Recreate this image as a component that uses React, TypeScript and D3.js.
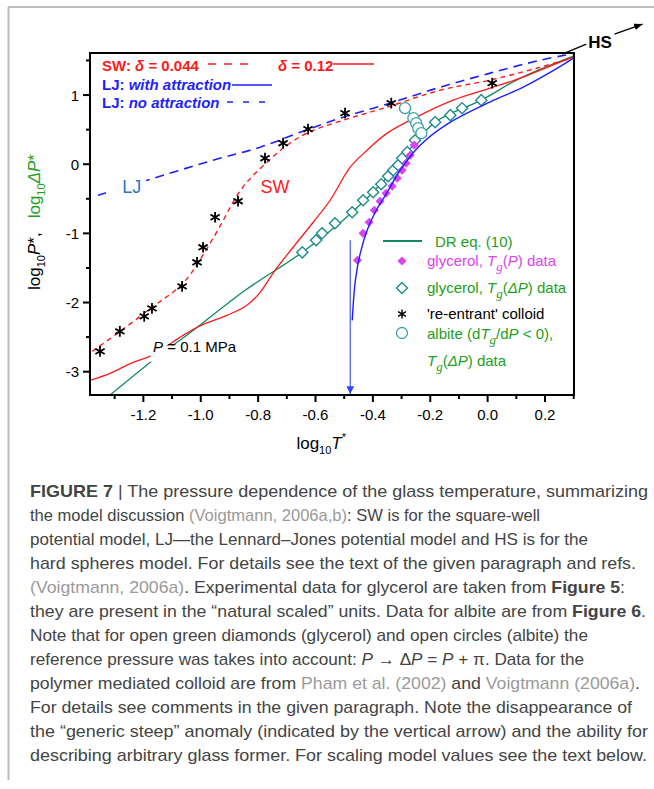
import React from "react";
import * as d3 from "d3";

const WIDTH = 654;
const HEIGHT = 789;

// axis ticks
const xTicks = [-1.2, -1.0, -0.8, -0.6, -0.4, -0.2, 0.0, 0.2];
const xMinor = [-1.3, -1.1, -0.9, -0.7, -0.5, -0.3, -0.1, 0.1, 0.3];
const yTicks = [-3, -2, -1, 0, 1];
const yMinor = [-2.5, -1.5, -0.5, 0.5, 1.5];

// LJ, no attraction (blue dashed)
const ljNoAttrX = [-1.358, -1.187, -0.957, -0.793, -0.653, -0.514, -0.34, -0.165, 0.009, 0.184, 0.3];
const ljNoAttrY = [-0.449, -0.232, 0.058, 0.246, 0.463, 0.666, 0.883, 1.114, 1.317, 1.505, 1.6];

// LJ, with attraction (blue solid)
const ljAttrX = [-0.472, -0.461, -0.444, -0.42, -0.392, -0.35, -0.305, -0.235, -0.141, 0.009, 0.124, 0.243, 0.299];
const ljAttrY = [-2.258, -1.679, -1.288, -0.955, -0.695, -0.405, -0.087, 0.275, 0.579, 0.9, 1.114, 1.389, 1.534];

// SW, delta = 0.044 (red dashed)
const sw044X = [-1.378, -1.281, -1.17, -1.062, -0.957, -0.856, -0.769, -0.699, -0.63, -0.514, -0.34, -0.165, 0.009, 0.184, 0.289];
const sw044Y = [-2.706, -2.417, -2.069, -1.722, -1.071, -0.347, 0.029, 0.275, 0.449, 0.622, 0.839, 1.071, 1.216, 1.404, 1.534];

// SW, delta = 0.12 (red solid)
const sw012X = [-1.386, -1.316, -1.236, -1.17, -1.062, -0.992, -0.908, -0.839, -0.793, -0.741, -0.678, -0.608, -0.549, -0.479, -0.42, -0.35, -0.235, -0.12, 0.009, 0.124, 0.243, 0.299];
const sw012Y = [-3.126, -3.025, -2.865, -2.764, -2.475, -2.315, -2.185, -2.04, -1.852, -1.534, -1.201, -0.839, -0.521, -0.043, 0.203, 0.449, 0.709, 0.926, 1.1, 1.259, 1.462, 1.548];

// DR eq. (10)
const drX = [-1.32, -1.141, -1.044, -0.845, -0.646, -0.472, -0.347, -0.28, -0.183, -0.022, 0.114, 0.299];
const drY = [-3.35, -2.75, -2.46, -1.823, -1.274, -0.695, -0.174, 0.174, 0.608, 0.926, 1.245, 1.563];

// glycerol, Tg(dP) data (open diamonds)
const glyDPX = [-0.646, -0.598, -0.577, -0.532, -0.472, -0.434, -0.399, -0.371, -0.347, -0.329, -0.312, -0.298, -0.28, -0.253, -0.183, -0.13, -0.089, -0.022];
const glyDPY = [-1.274, -1.1, -0.999, -0.854, -0.695, -0.521, -0.405, -0.289, -0.174, -0.087, -0.014, 0.087, 0.174, 0.347, 0.608, 0.709, 0.81, 0.926];

// glycerol, Tg(P) data (filled diamonds)
const glyPX = [-0.454, -0.434, -0.413, -0.395, -0.375, -0.354, -0.333, -0.315, -0.298, -0.284, -0.27, -0.256];
const glyPY = [-1.389, -0.999, -0.839, -0.666, -0.535, -0.42, -0.318, -0.203, -0.087, 0.014, 0.13, 0.275];

// 're-entrant' colloid
const colloidX = [-1.351, -1.282, -1.197, -1.17, -1.065, -1.013, -0.992, -0.95, -0.87, -0.776, -0.713, -0.626, -0.497, -0.336, 0.016];
const colloidY = [-2.706, -2.417, -2.2, -2.084, -1.766, -1.418, -1.201, -0.767, -0.535, 0.087, 0.304, 0.507, 0.738, 0.883, 1.172];

// albite, Tg(dP) data
const albiteX = [-0.288, -0.259, -0.249, -0.242, -0.231];
const albiteY = [0.81, 0.666, 0.593, 0.521, 0.449];

// generic steep anomaly arrow (log10 T*, from / to log10 P*)
const arrowX = -0.479;
const arrowY = [-1.1, -3.337];

// HS pointer
const hsLine = [[0.26, 1.592], [0.344, 1.737]];
const hsArrow = [[0.442, 1.881], [0.54, 2.026]];
const hsLabel = [0.351, 1.679];

const caption: [string, string][][] = [
  [["FIGURE 7", "b"], [" | The pressure dependence of the glass temperature, summarizing", ""]],
  [["the model discussion ", ""], ["(Voigtmann, 2006a,b)", "g"], [": SW is for the square-well", ""]],
  [["potential model, LJ\u2014the Lennard\u2013Jones potential model and HS is for the", ""]],
  [["hard spheres model. For details see the text of the given paragraph and refs.", ""]],
  [["(Voigtmann, 2006a)", "g"], [". Experimental data for glycerol are taken from ", ""], ["Figure 5", "b"], [":", ""]],
  [["they are present in the \u201cnatural scaled\u201d units. Data for albite are from ", ""], ["Figure 6", "b"], [".", ""]],
  [["Note that for open green diamonds (glycerol) and open circles (albite) the", ""]],
  [["reference pressure was takes into account: ", ""], ["P", "i"], [" \u2192 \u0394", ""], ["P", "i"], [" = ", ""], ["P", "i"], [" + \u03c0. Data for the", ""]],
  [["polymer mediated colloid are from ", ""], ["Pham et al. (2002)", "g"], [" and ", ""], ["Voigtmann (2006a)", "g"], [".", ""]],
  [["For details see comments in the given paragraph. Note the disappearance of", ""]],
  [["the \u201cgeneric steep\u201d anomaly (indicated by the vertical arrow) and the ability for", ""]],
  [["describing arbitrary glass former. For scaling model values see the text below.", ""]],
];
const captionEnds = [648, 540, 588, 636, 625, 646, 588, 584, 640, 632, 648, 647];

const RED = "#ff1a1a";
const BLUE = "#1f1fff";
const TEAL = "#1e8c8c";
const DRGREEN = "#138a5e";
const TXTGREEN = "#23a023";
const MAGENTA = "#dd44ee";
const CIRCLE = "#3aa3a8";
const FONT = "Arial, 'Liberation Sans', Helvetica, sans-serif";
const SERIF = "'Liberation Serif', 'Times New Roman', serif";

const zip = (xs: number[], ys: number[]) => xs.map((x, i) => [x, ys[i]] as [number, number]);

export default function App() {
  const margin = { top: 53, right: 80, bottom: 394, left: 90 };
  const x = d3.scaleLinear().domain([-1.386, 0.301]).range([margin.left, WIDTH - margin.right]);
  const y = d3.scaleLinear().domain([-3.337, 1.608]).range([HEIGHT - margin.bottom, margin.top]);
  const x0 = x.range()[0], x1 = x.range()[1];
  const y0 = y.range()[0], y1 = y.range()[1];

  const line = d3
    .line<[number, number]>()
    .x((d) => x(d[0]))
    .y((d) => y(d[1]))
    .curve(d3.curveCatmullRom.alpha(0.5));
  const straight = d3
    .line<[number, number]>()
    .x((d) => x(d[0]))
    .y((d) => y(d[1]));

  const star = d3.symbol(d3.symbolAsterisk, 80)();
  const diamond = d3.symbol(d3.symbolSquare, 62)();
  const smallDiamond = d3.symbol(d3.symbolSquare, 42)();

  const tx = (d: [string, string], i: number) => (
    <tspan
      key={i}
      fontWeight={d[1] === "b" ? "bold" : undefined}
      fill={d[1] === "g" ? "#9a9a9a" : undefined}
      fontStyle={d[1] === "i" ? "italic" : undefined}
    >
      {d[0]}
    </tspan>
  );

  const Tg = (color: string) => (
    <>
      <tspan fontStyle="italic">T</tspan>
      <tspan fontStyle="italic" fontFamily={SERIF} fontSize={13} dy={5} fill={color}>g</tspan>
      <tspan dy={-5}>(</tspan>
    </>
  );

  return (
    <svg
      width={WIDTH}
      height={HEIGHT}
      style={{ position: "absolute", left: 0, top: 0, background: "#fff" }}
      fontFamily={FONT}
    >
      <defs>
        <clipPath id="plot">
          <rect x={x0} y={y1} width={x1 - x0} height={y0 - y1} />
        </clipPath>
        <marker id="head" viewBox="0 0 10 10" refX="10" refY="5" markerWidth="7" markerHeight="7" orient="auto">
          <path d="M0,0 L10,5 L0,10 z" fill="#3344ff" />
        </marker>
        <marker id="headK" viewBox="0 0 10 10" refX="10" refY="5" markerWidth="7" markerHeight="7" orient="auto">
          <path d="M0,1 L10,5 L0,9 z" fill="#000" />
        </marker>
      </defs>

      {/* page frame */}
      <line x1={8.5} x2={8.5} y1={7} y2={780} stroke="#bdbdbd" strokeWidth={2} />
      <line x1={8} x2={WIDTH} y1={7} y2={7} stroke="#bdbdbd" strokeWidth={2} />

      <g clipPath="url(#plot)" fill="none" strokeWidth={1.3}>
        <path d={line(zip(drX, drY))!} stroke={DRGREEN} />
        <path d={line(zip(sw012X, sw012Y))!} stroke={RED} />
        <path d={line(zip(sw044X, sw044Y))!} stroke={RED} strokeDasharray="5 4" strokeWidth={1.4} />
        <path d={line(zip(ljNoAttrX, ljNoAttrY))!} stroke={BLUE} strokeDasharray="9 6" strokeWidth={1.6} />
        <path d={line(zip(albiteX, albiteY))!} stroke={TEAL} />
      </g>

      {/* P = 0.1 MPa label with white backing */}
      <rect x={x(-1.175)} y={y(-2.625)} width={30} height={16} fill="#fff" />
      <text x={x(-1.166)} y={y(-2.71)} fontSize={15}>
        <tspan fontStyle="italic">P</tspan> = 0.1 MPa
      </text>

      {/* data points */}
      {zip(glyDPX, glyDPY).map((d, i) => (
        <path key={"dp" + i} d={diamond} transform={`translate(${x(d[0])},${y(d[1])}) rotate(45)`} fill="#fff" stroke={TEAL} strokeWidth={1.4} />
      ))}
      {zip(glyPX, glyPY).map((d, i) => (
        <path key={"p" + i} d={smallDiamond} transform={`translate(${x(d[0])},${y(d[1])}) rotate(45)`} fill={MAGENTA} />
      ))}
      {zip(albiteX, albiteY).map((d, i) => (
        <circle key={"a" + i} cx={x(d[0])} cy={y(d[1])} r={5.5} fill="#fff" stroke={CIRCLE} strokeWidth={1.3} />
      ))}
      <path d={line(zip(ljAttrX, ljAttrY))!} fill="none" stroke={BLUE} strokeWidth={1.4} clipPath="url(#plot)" />
      {zip(colloidX, colloidY).map((d, i) => (
        <path key={"c" + i} d={star} transform={`translate(${x(d[0])},${y(d[1])})`} stroke="#000" strokeWidth={1.8} />
      ))}

      {/* generic steep anomaly arrow */}
      <line
        x1={x(arrowX)} x2={x(arrowX)} y1={y(arrowY[0])} y2={y(arrowY[1]) - 1}
        stroke="#3344ff" strokeWidth={1.1} markerEnd="url(#head)"
      />

      {/* curve labels */}
      <rect x={x(-1.33)} y={y(-0.17)} width={40} height={20} fill="#fff" />
      <text x={x(-1.274)} y={y(-0.42)} fontSize={18} fill="#2f76c4">LJ</text>
      <text x={x(-0.792)} y={y(-0.41)} fontSize={18} fill={RED}>SW</text>

      {/* frame and axes */}
      <rect x={x0} y={y1} width={x1 - x0} height={y0 - y1} fill="none" stroke="#000" strokeWidth={2} />
      {xTicks.map((t) => (
        <g key={"xt" + t}>
          <line x1={x(t)} x2={x(t)} y1={y0} y2={y0 + 7} stroke="#000" strokeWidth={2} />
          <text x={x(t)} y={y0 + 25} fontSize={15} textAnchor="middle">{t.toFixed(1)}</text>
        </g>
      ))}
      {xMinor.map((t) => (
        <line key={"xm" + t} x1={x(t)} x2={x(t)} y1={y0} y2={y0 + 4} stroke="#000" strokeWidth={2} />
      ))}
      {yTicks.map((t) => (
        <g key={"yt" + t}>
          <line x1={x0 - 7} x2={x0} y1={y(t)} y2={y(t)} stroke="#000" strokeWidth={2} />
          <text x={x0 - 11} y={y(t) + 5.5} fontSize={15} textAnchor="end">{t}</text>
        </g>
      ))}
      {yMinor.map((t) => (
        <line key={"ym" + t} x1={x0 - 4} x2={x0} y1={y(t)} y2={y(t)} stroke="#000" strokeWidth={2} />
      ))}

      {/* axis titles */}
      <text x={x(-0.58)} y={y0 + 54} fontSize={17} textAnchor="middle">
        log<tspan fontSize={11} dy={5}>10</tspan>
        <tspan fontStyle="italic" dy={-5}>T</tspan>
        <tspan fontSize={11} dy={-8}>*</tspan>
      </text>
      <text transform={`translate(40,222) rotate(-90)`} fontSize={17} textAnchor="middle">
        log<tspan fontSize={11} dy={5}>10</tspan>
        <tspan fontStyle="italic" dy={-5}>P</tspan>*,
        <tspan fill={TXTGREEN} dx={14}>log</tspan>
        <tspan fill={TXTGREEN} fontSize={11} dy={5}>10</tspan>
        <tspan fill={TXTGREEN} fontStyle="italic" dy={-5}>{"\u0394P"}</tspan>
        <tspan fill={TXTGREEN}>*</tspan>
      </text>

      {/* top-left legend */}
      <g fontSize={15} fontWeight="bold">
        <text x={102} y={71} fill={RED}>
          SW:{"  "}<tspan fontStyle="italic">{"\u03b4"}</tspan> = 0.044
        </text>
        <line x1={208} x2={250} y1={64} y2={64} stroke={RED} strokeWidth={1.6} strokeDasharray="8 8" />
        <text x={278} y={71} fill={RED}>
          <tspan fontStyle="italic">{"\u03b4"}</tspan> = 0.12
        </text>
        <line x1={333} x2={374} y1={64} y2={64} stroke={RED} strokeWidth={1.6} />
        <text x={102} y={90} fill={BLUE}>
          LJ: <tspan fontStyle="italic">with attraction</tspan>
        </text>
        <line x1={232} x2={272} y1={85} y2={85} stroke={BLUE} strokeWidth={1.4} />
        <text x={102} y={108} fill={BLUE}>
          LJ: <tspan fontStyle="italic">no attraction</tspan>
        </text>
        <line x1={227} x2={268} y1={102} y2={102} stroke={BLUE} strokeWidth={1.6} strokeDasharray="6 10" />
      </g>

      {/* HS annotation */}
      <line x1={x(hsLine[0][0])} y1={y(hsLine[0][1])} x2={x(hsLine[1][0])} y2={y(hsLine[1][1])} stroke="#000" strokeWidth={1.2} />
      <text x={x(hsLabel[0])} y={y(hsLabel[1])} fontSize={17} fontWeight="bold">HS</text>
      <path d={straight(hsArrow as [number, number][])!} stroke="#000" strokeWidth={1.2} markerEnd="url(#headK)" />

      {/* lower-right legend */}
      <g fontSize={15}>
        <line x1={383} x2={422} y1={241} y2={241} stroke={DRGREEN} strokeWidth={2} />
        <text x={435} y={247} fill={TXTGREEN}>DR eq. (10)</text>
        <path d={smallDiamond} transform="translate(402,261) rotate(45)" fill={MAGENTA} />
        <text x={427} y={266} fill={MAGENTA}>
          glycerol, {Tg(MAGENTA)}<tspan fontStyle="italic">P</tspan>) data
        </text>
        <path d={diamond} transform="translate(402,288) rotate(45)" fill="#fff" stroke={TEAL} strokeWidth={1.4} />
        <text x={427} y={293} fill={TXTGREEN}>
          glycerol, {Tg(TXTGREEN)}<tspan fontStyle="italic">{"\u0394P"}</tspan>) data
        </text>
        <path d={star} transform="translate(402,314) scale(0.85)" stroke="#000" strokeWidth={1.7} />
        <text x={427} y={319} fill="#000">'re-entrant' colloid</text>
        <circle cx={402} cy={333} r={5.5} fill="#fff" stroke={CIRCLE} strokeWidth={1.3} />
        <text x={427} y={339} fill={TXTGREEN}>
          albite (d<tspan fontStyle="italic">T</tspan>
          <tspan fontStyle="italic" fontFamily={SERIF} fontSize={13} dy={5}>g</tspan>
          <tspan dy={-5}>/d</tspan><tspan fontStyle="italic">P</tspan> &lt; 0),
        </text>
        <text x={427} y={366} fill={TXTGREEN}>
          {Tg(TXTGREEN)}<tspan fontStyle="italic">{"\u0394P"}</tspan>) data
        </text>
      </g>

      {/* caption */}
      <g fontSize={17} fill="#444">
        {caption.map((segs, i) => (
          <text key={"cap" + i} x={30} y={497 + i * 24} textLength={captionEnds[i] - 30} lengthAdjust="spacingAndGlyphs">
            {segs.map(tx)}
          </text>
        ))}
      </g>
    </svg>
  );
}
